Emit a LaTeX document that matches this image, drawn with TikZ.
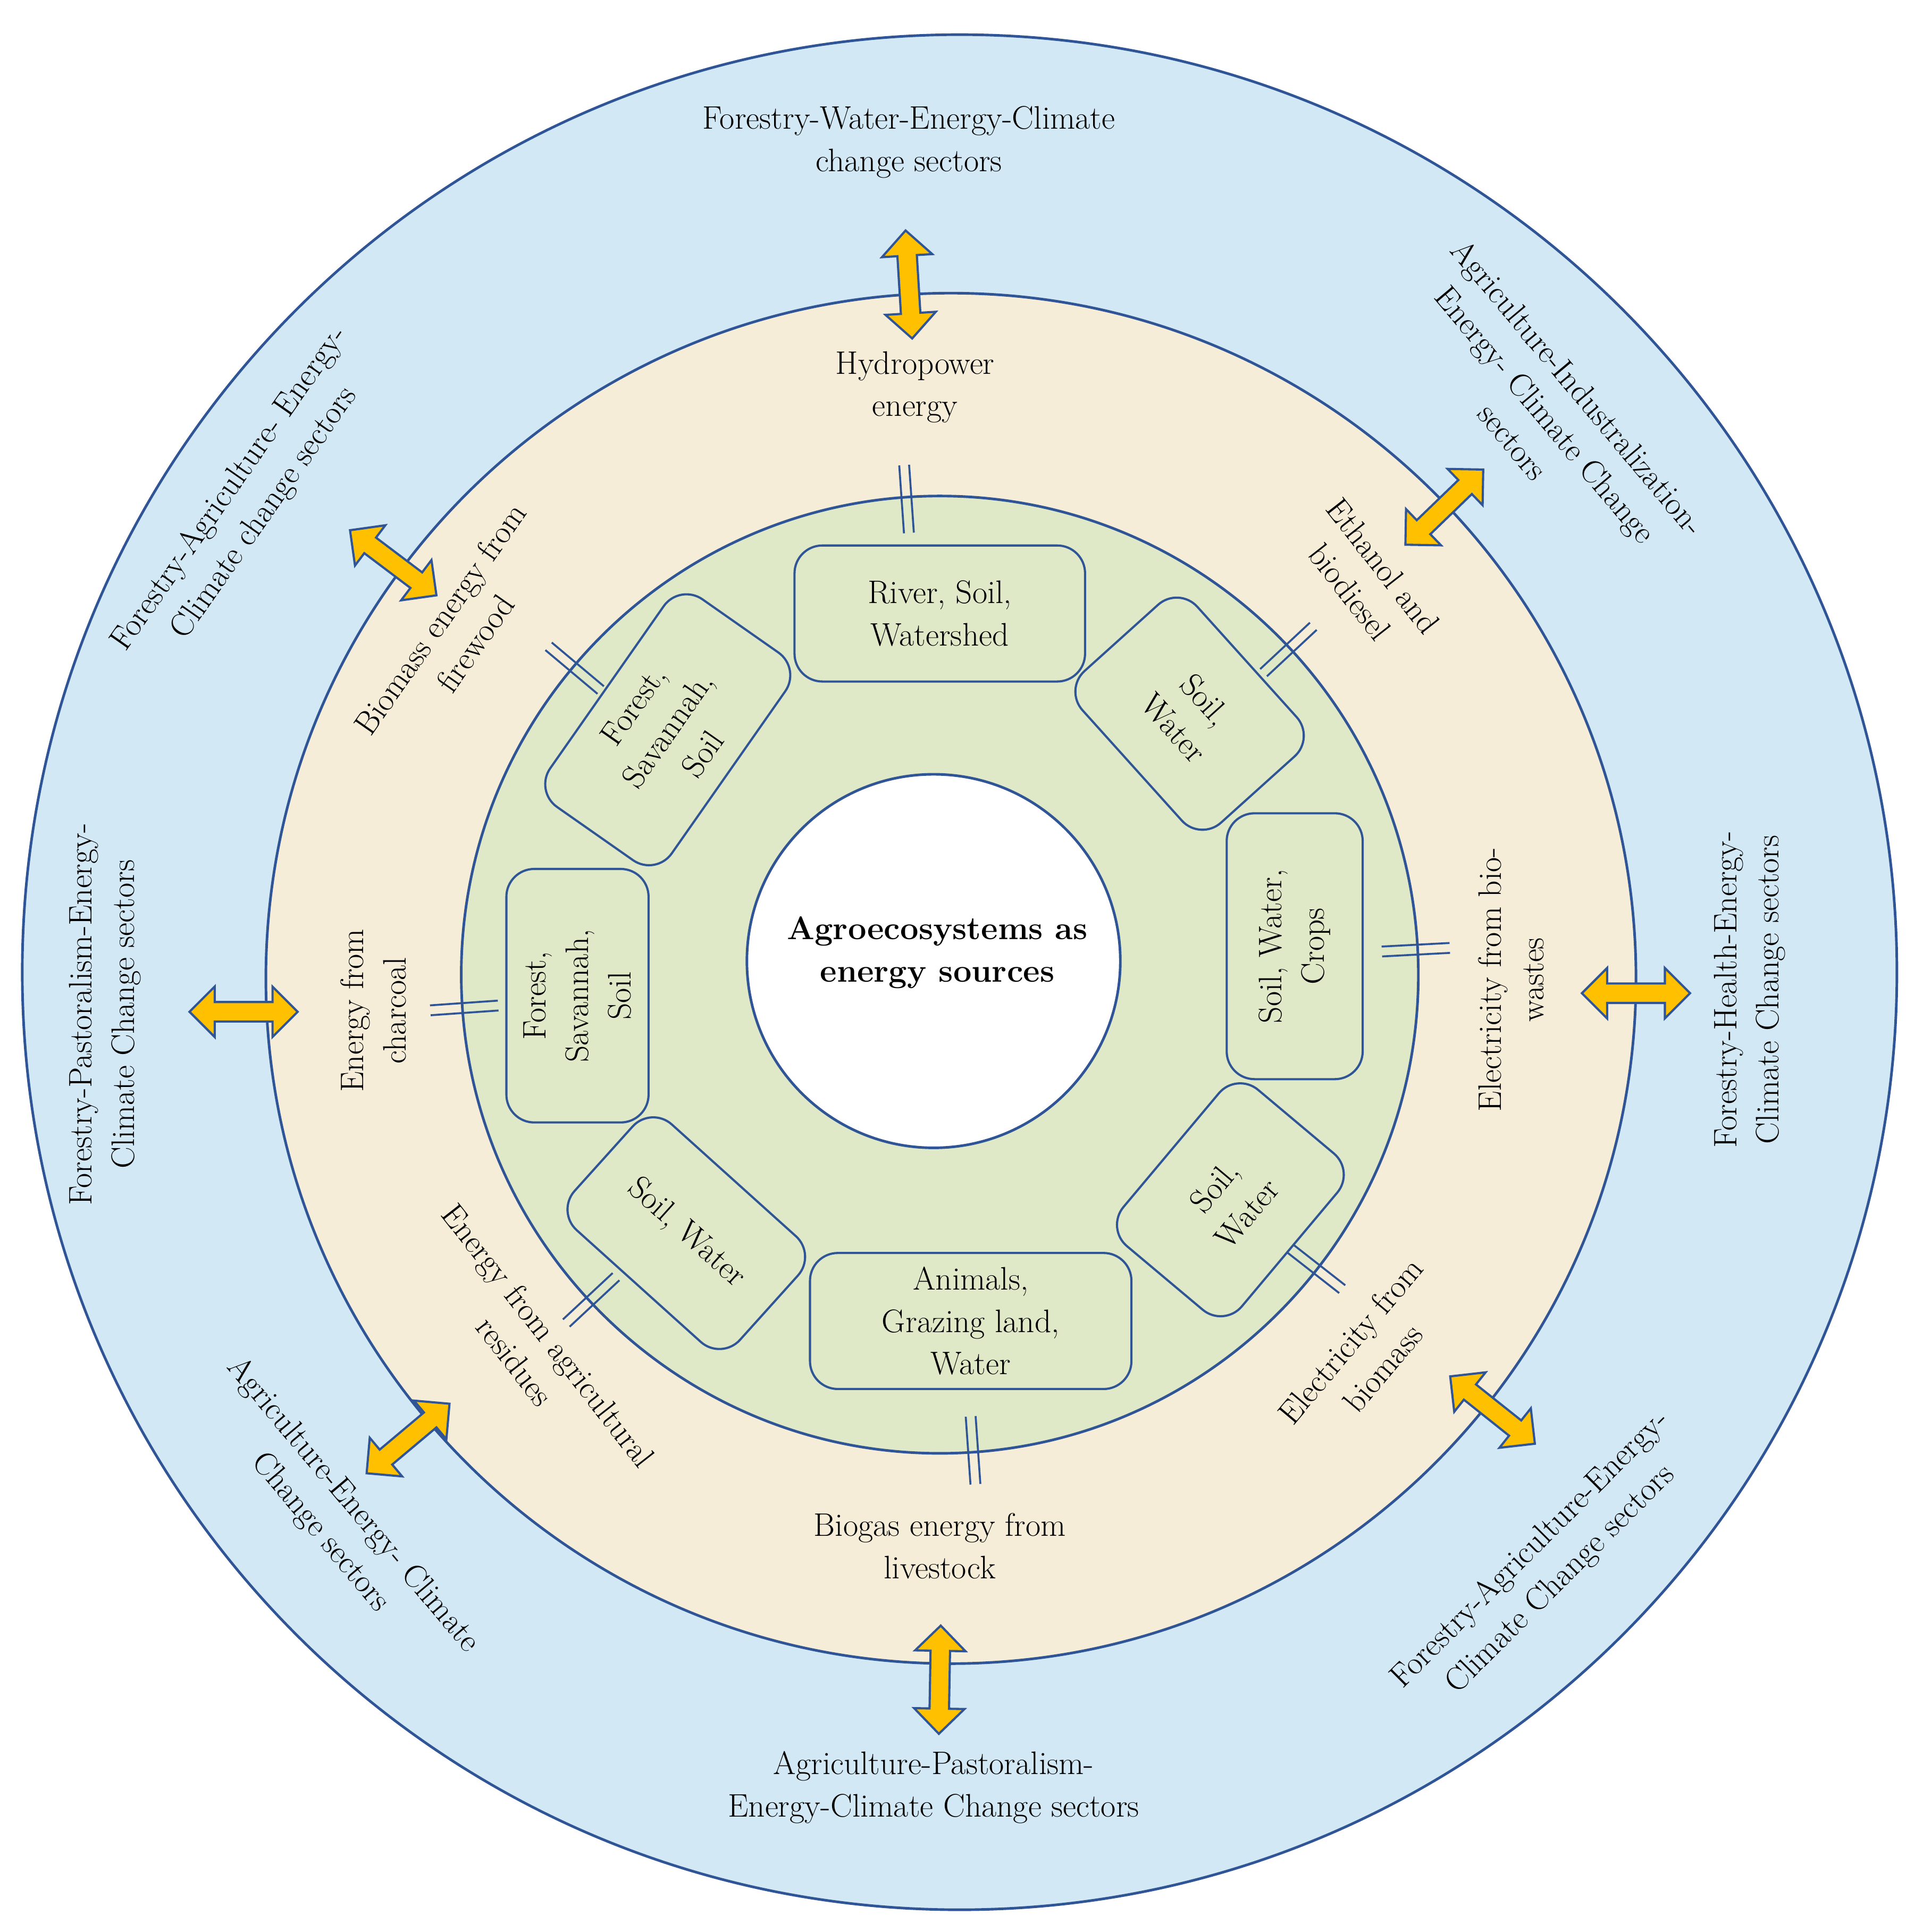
\documentclass[tikz,border=0pt]{standalone}
\usepackage{tikz}
\usetikzlibrary{shapes.arrows,calc}
\definecolor{skyring}{HTML}{D3E8F5}
\definecolor{sandring}{HTML}{F6EDD9}
\definecolor{leafring}{HTML}{DFE8C7}
\definecolor{navyline}{HTML}{2F5597}
\definecolor{arrowgold}{HTML}{FFC000}
\tikzset{
  ring/.style={draw=navyline, line width=1.2pt},
  lbl/.style={align=center, font=\fontsize{15}{19.5}\selectfont, inner sep=0pt},
  patch/.style={draw=navyline, line width=1pt, fill=leafring, rounded corners=0.45cm, align=center, font=\fontsize{15}{19.5}\selectfont},
  link/.style={double arrow, draw=navyline, line width=1pt, fill=arrowgold, minimum height=1.75cm, double arrow head extend=0.25cm, inner sep=0.14cm},
  tick/.style={draw=navyline, line width=0.9pt}
}
\begin{document}
\begin{tikzpicture}[x=0.02cm,y=-0.02cm]
\useasboundingbox (0,0) rectangle (1555,1562);
\coordinate (cen) at (760,788);
% rings
\fill[skyring] (776,786) circle (758);
\draw[ring] (776,786) circle (758);
\fill[sandring] (769,791) circle (554);
\draw[ring] (769,791) circle (554);
\fill[leafring] (cen) circle (387);
\draw[ring] (cen) circle (387);
\fill[white] (755,777) circle (151);
\draw[ring] (755,777) circle (151);
\node[lbl, font=\fontsize{15}{19.5}\selectfont\bfseries] (core) at (758,770) {Agroecosystems as\\energy sources};

% ticks across the green ring
\foreach \a in {94,43,3,-38,-86,-137,184,140}{
  \draw[tick] ($(cen)+(-\a:358)+(-\a+90:4)$) -- ($(cen)+(-\a:413)+(-\a+90:4)$);
  \draw[tick] ($(cen)+(-\a:358)+(-\a-90:4)$) -- ($(cen)+(-\a:413)+(-\a-90:4)$);
}

% resource patches
\node[patch, minimum width=4.7cm, minimum height=2.2cm] (river) at (760,496) {River, Soil,\\Watershed};
\node[patch, minimum width=3.3cm, minimum height=2.5cm, rotate=-48] (swne) at (962,577) {Soil,\\Water};
\node[patch, minimum width=4.3cm, minimum height=2.2cm, rotate=90] (crops) at (1047,765) {Soil, Water,\\Crops};
\node[patch, minimum width=3.3cm, minimum height=2.5cm, rotate=50] (swse) at (995,970) {Soil,\\Water};
\node[patch, minimum width=5.2cm, minimum height=2.2cm] (animals) at (785,1068) {Animals,\\Grazing land,\\Water};
\node[patch, minimum width=3.6cm, minimum height=2.3cm, rotate=-42] (swsw) at (555,997) {Soil, Water};
\node[patch, minimum width=4.1cm, minimum height=2.3cm, rotate=90] (forw) at (467,805) {Forest,\\Savannah,\\Soil};
\node[patch, minimum width=4.1cm, minimum height=2.4cm, rotate=55] (fornw) at (540,590) {Forest,\\Savannah,\\Soil};

% energy labels
\node[lbl] (hydro) at (740,313) {Hydropower\\energy};
\node[lbl, rotate=-52] (ethanol) at (1105,468) {Ethanol and\\biodiesel};
\node[lbl, rotate=90] (biowaste) at (1222,792) {Electricity from bio-\\wastes};
\node[lbl, rotate=50] (biomass) at (1105,1095) {Electricity from\\biomass};
\node[lbl] (biogas) at (760,1250) {Biogas energy from\\livestock};
\node[lbl, rotate=-52] (residue) at (430,1090) {Energy from agricultural\\residues};
\node[lbl, rotate=90] (charcoal) at (302,817) {Energy from\\charcoal};
\node[lbl, rotate=55] (firewood) at (370,510) {Biomass energy from\\firewood};

% sector labels
\node[lbl] (secn) at (735,115) {Forestry-Water-Energy-Climate\\change sectors};
\node[lbl, rotate=-50] (secne) at (1250,335) {Agriculture-Industralization-\\Energy- Climate Change\\sectors};
\node[lbl, rotate=90] (sece) at (1415,800) {Forestry-Health-Energy-\\Climate Change sectors};
\node[lbl, rotate=45] (secse) at (1250,1265) {Forestry-Agriculture-Energy-\\Climate Change sectors};
\node[lbl] (secs) at (755,1445) {Agriculture-Pastoralism-\\Energy-Climate Change sectors};
\node[lbl, rotate=-50] (secsw) at (272,1228) {Agriculture-Energy- Climate\\Change sectors};
\node[lbl, rotate=90] (secw) at (85,820) {Forestry-Pastoralism-Energy-\\Climate Change sectors};
\node[lbl, rotate=55] (secnw) at (200,405) {Forestry-Agriculture- Energy-\\Climate change sectors};

% links between rings
\node[link, rotate=93.5] (ln) at (735,230) {};
\node[link, rotate=44] (lne) at (1168,410) {};
\node[link, rotate=0] (le) at (1323,803) {};
\node[link, rotate=-38.5] (lse) at (1207,1140) {};
\node[link, rotate=-91] (ls) at (760,1358) {};
\node[link, rotate=-140] (lsw) at (330,1163) {};
\node[link, rotate=180] (lw) at (197,818) {};
\node[link, rotate=143] (lnw) at (318,455) {};
\end{tikzpicture}
\end{document}
